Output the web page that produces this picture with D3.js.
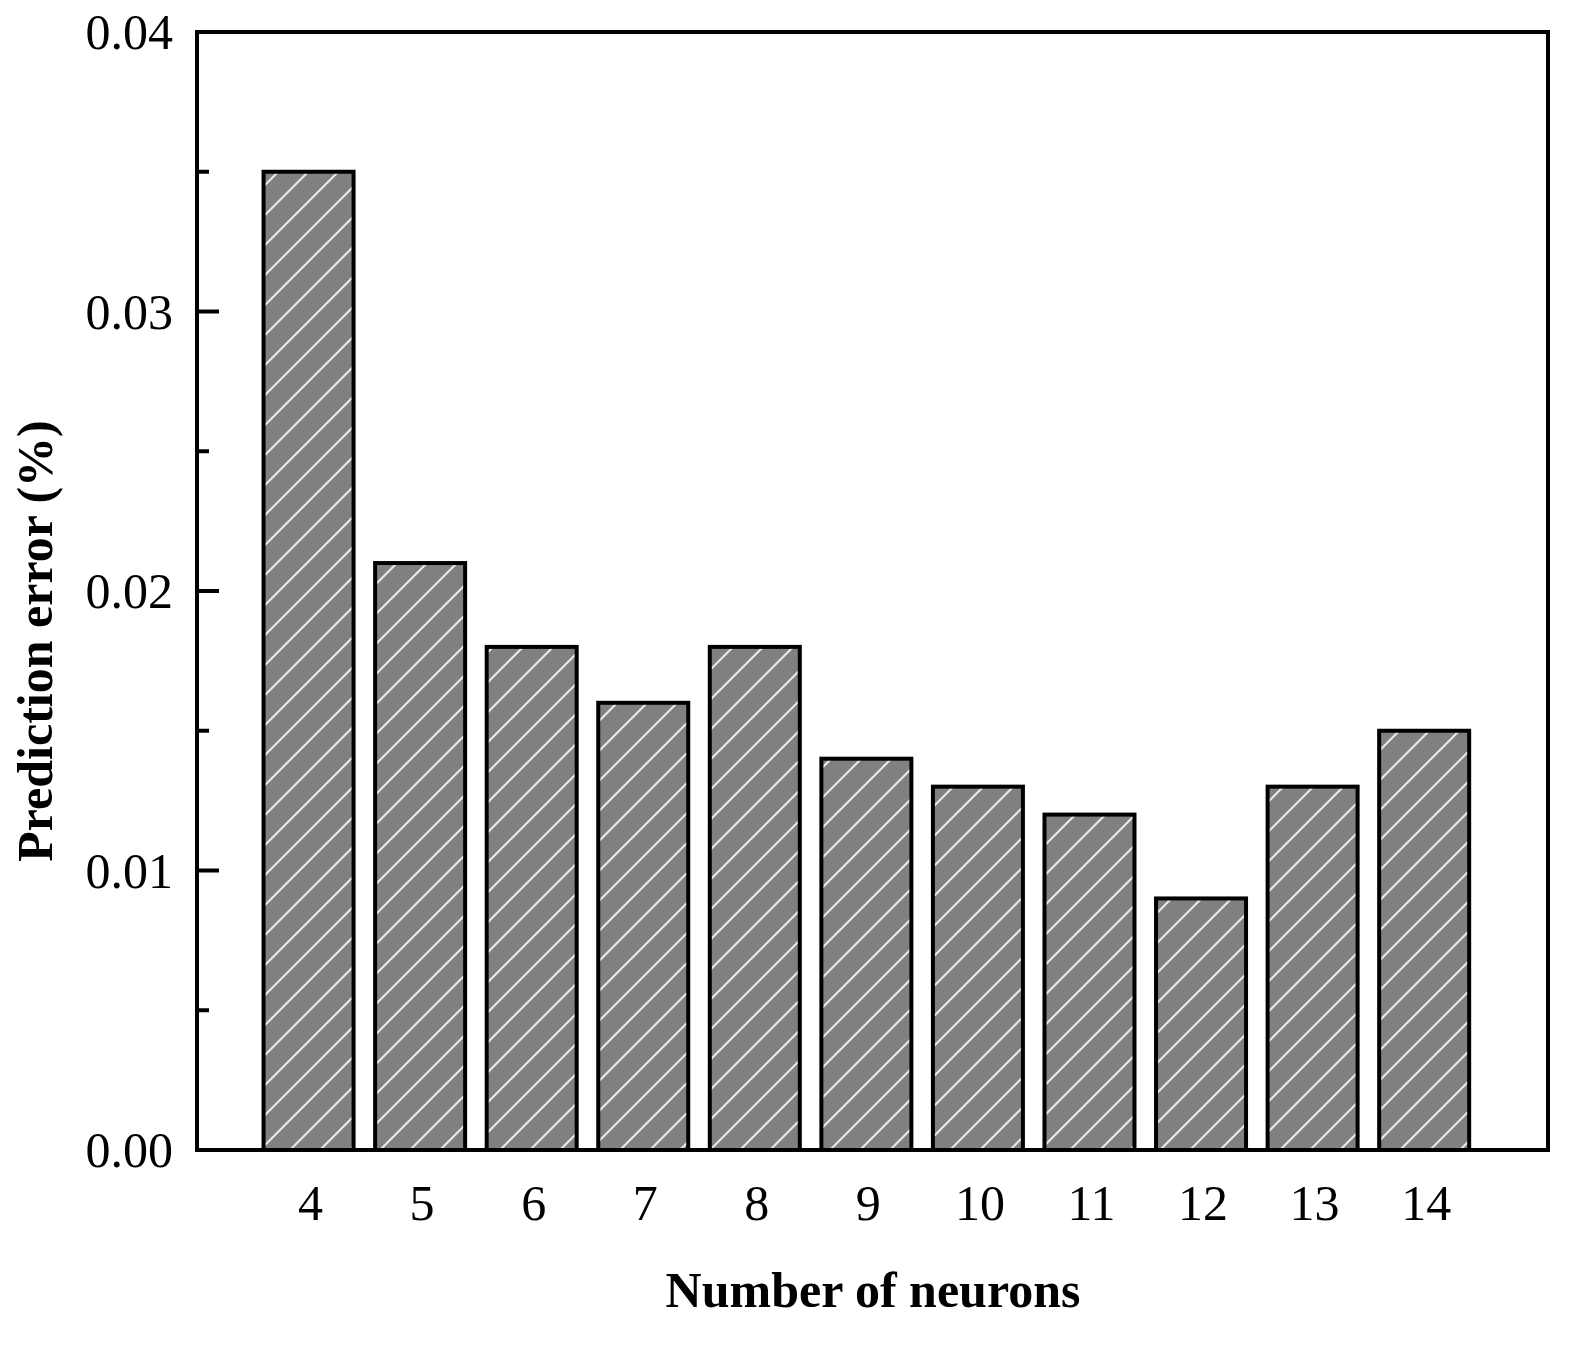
<!DOCTYPE html>
<html><head><meta charset="utf-8">
<script src="https://cdn.jsdelivr.net/npm/d3@7"></script>
<style>body{margin:0;background:#fff}</style>
</head><body>
<svg id="chart" width="1585" height="1346"></svg>
<script>
var neurons = [4, 5, 6, 7, 8, 9, 10, 11, 12, 13, 14];
var errors = [0.035, 0.021, 0.018, 0.016, 0.018, 0.014, 0.013, 0.012, 0.009, 0.013, 0.015];
var yTicks = [0, 0.01, 0.02, 0.03, 0.04];

var svg = d3.select('#chart');
var plotL = 197, plotR = 1548, plotT = 32, plotB = 1150;
var font = '"Liberation Serif", "Times New Roman", serif';

var x = d3.scaleLinear().domain([3, 15.11]).range([plotL, plotR]);
var y = d3.scaleLinear().domain([0, 0.04]).range([plotB, plotT]);
var barW = 90;

// hatch pattern
var pat = svg.append('defs').append('pattern')
  .attr('id', 'hatch').attr('patternUnits', 'userSpaceOnUse')
  .attr('width', 30).attr('height', 30);
pat.append('rect').attr('width', 30).attr('height', 30).attr('fill', '#808080');
pat.append('path').attr('d', 'M-5,35 L35,-5 M-35,35 L35,-35 M-5,65 L65,-5')
  .attr('stroke', '#e8e8e8').attr('stroke-width', 2.2);

svg.selectAll('rect.bar').data(neurons).enter().append('rect')
  .attr('class', 'bar')
  .attr('x', function(d) { return x(d) - barW / 2; })
  .attr('y', function(d, i) { return y(errors[i]); })
  .attr('width', barW)
  .attr('height', function(d, i) { return plotB - y(errors[i]); })
  .attr('fill', 'url(#hatch)').attr('stroke', '#000').attr('stroke-width', 4);

// frame
svg.append('rect').attr('x', plotL).attr('y', plotT)
  .attr('width', plotR - plotL).attr('height', plotB - plotT)
  .attr('fill', 'none').attr('stroke', '#000').attr('stroke-width', 4);

// y ticks (inward)
var minor = [0.005, 0.015, 0.025, 0.035];
svg.selectAll('line.maj').data(yTicks).enter().append('line')
  .attr('x1', plotL).attr('x2', plotL + 22)
  .attr('y1', function(d) { return y(d); }).attr('y2', function(d) { return y(d); })
  .attr('stroke', '#000').attr('stroke-width', 4);
svg.selectAll('line.min').data(minor).enter().append('line')
  .attr('x1', plotL).attr('x2', plotL + 12)
  .attr('y1', function(d) { return y(d); }).attr('y2', function(d) { return y(d); })
  .attr('stroke', '#000').attr('stroke-width', 4);

svg.selectAll('text.yl').data(yTicks).enter().append('text')
  .attr('x', plotL - 24).attr('y', function(d) { return y(d) + 17; })
  .attr('text-anchor', 'end').attr('font-family', font).attr('font-size', 50)
  .text(function(d) { return d3.format('.2f')(d); });

svg.selectAll('text.xl').data(neurons).enter().append('text')
  .attr('x', function(d) { return x(d) + 2; }).attr('y', 1220)
  .attr('text-anchor', 'middle').attr('font-family', font).attr('font-size', 50)
  .text(function(d) { return d; });

svg.append('text').attr('x', 873).attr('y', 1307)
  .attr('text-anchor', 'middle').attr('font-family', font).attr('font-size', 50)
  .attr('font-weight', 'bold').text('Number of neurons');

svg.append('text').attr('transform', 'translate(52,' + ((plotT + plotB) / 2 + 50) + ') rotate(-90)')
  .attr('text-anchor', 'middle').attr('font-family', font).attr('font-size', 50)
  .attr('font-weight', 'bold').text('Prediction error (%)');
</script>
</body></html>
